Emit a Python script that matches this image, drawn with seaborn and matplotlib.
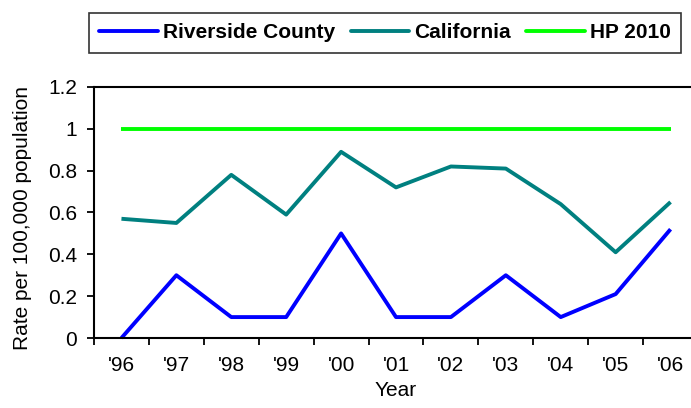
import pandas as pd
import seaborn as sns
import matplotlib.pyplot as plt
from matplotlib.ticker import FixedLocator

years = ["'96", "'97", "'98", "'99", "'00", "'01", "'02", "'03", "'04", "'05", "'06"]
riverside = [0.0, 0.3, 0.1, 0.1, 0.5, 0.1, 0.1, 0.3, 0.1, 0.21, 0.52]
california = [0.57, 0.55, 0.78, 0.59, 0.89, 0.72, 0.82, 0.81, 0.64, 0.41, 0.65]
hp2010 = [1.0] * 11

series_names = ["Riverside County", "California", "HP 2010"]
colors = ["#0000FF", "#008080", "#00FF00"]

rows = []
for name, vals in zip(series_names, [riverside, california, hp2010]):
    for i, v in enumerate(vals):
        rows.append({"pos": i, "rate": v, "series": name})
df = pd.DataFrame(rows)

sns.set_style("white")
plt.rcParams['font.family'] = ['Liberation Sans', 'DejaVu Sans']
# seaborn greys out the text; the original is plain black
plt.rcParams['text.color'] = 'black'
plt.rcParams['axes.labelcolor'] = 'black'
plt.rcParams['xtick.color'] = 'black'
plt.rcParams['ytick.color'] = 'black'

fig = plt.figure(figsize=(6.91, 4.08), dpi=100)
# plot area runs a little past the right edge, as in the original
ax = fig.add_axes([94 / 691, 70 / 408, (698 - 94) / 691, 251 / 408])

sns.lineplot(data=df, x="pos", y="rate", hue="series", hue_order=series_names,
             palette=colors, linewidth=2.8, ax=ax, legend=False)
for line in ax.lines:
    line.set_clip_on(False)
    line.set_solid_capstyle("butt")

ax.set_xlim(-0.5, 10.5)
ax.set_ylim(0, 1.2)
ax.set_yticks([0, 0.2, 0.4, 0.6, 0.8, 1.0, 1.2])
ax.set_yticklabels(["0", "0.2", "0.4", "0.6", "0.8", "1", "1.2"])
ax.set_xticks(range(len(years)))
ax.set_xticklabels(years)
ax.xaxis.set_minor_locator(FixedLocator([i - 0.5 for i in range(len(years) + 1)]))

ax.spines["right"].set_visible(False)
for s in ["left", "bottom", "top"]:
    ax.spines[s].set_color("black")
    ax.spines[s].set_linewidth(1.5)

ax.tick_params(axis="y", which="major", direction="out", length=5, width=1.3,
               color="black", labelcolor="black", labelsize=15, pad=7, left=True)
ax.tick_params(axis="x", which="major", length=0, labelcolor="black", labelsize=15, pad=13)
ax.tick_params(axis="x", which="minor", direction="out", length=5, width=1.3,
               color="black", bottom=True)

ax.set_xlabel("Year", fontsize=15, labelpad=4, color="black")
ax.set_ylabel("Rate per 100,000 population", fontsize=15, color="black")
ax.yaxis.set_label_coords(-0.103, 0.48)

handles = [plt.Line2D([0], [0], color=c, linewidth=2.8) for c in colors]
leg = fig.legend(handles, series_names, loc="center", ncol=3,
                 bbox_to_anchor=(385 / 691, 1 - 33 / 408),
                 prop={"weight": "bold", "size": 15}, frameon=True, fancybox=False,
                 edgecolor="black", handlelength=2.8, handletextpad=0.25,
                 columnspacing=0.75, borderpad=0.5, labelcolor="black")
leg.get_frame().set_linewidth(1.2)

fig.savefig("out.png", dpi=100)
